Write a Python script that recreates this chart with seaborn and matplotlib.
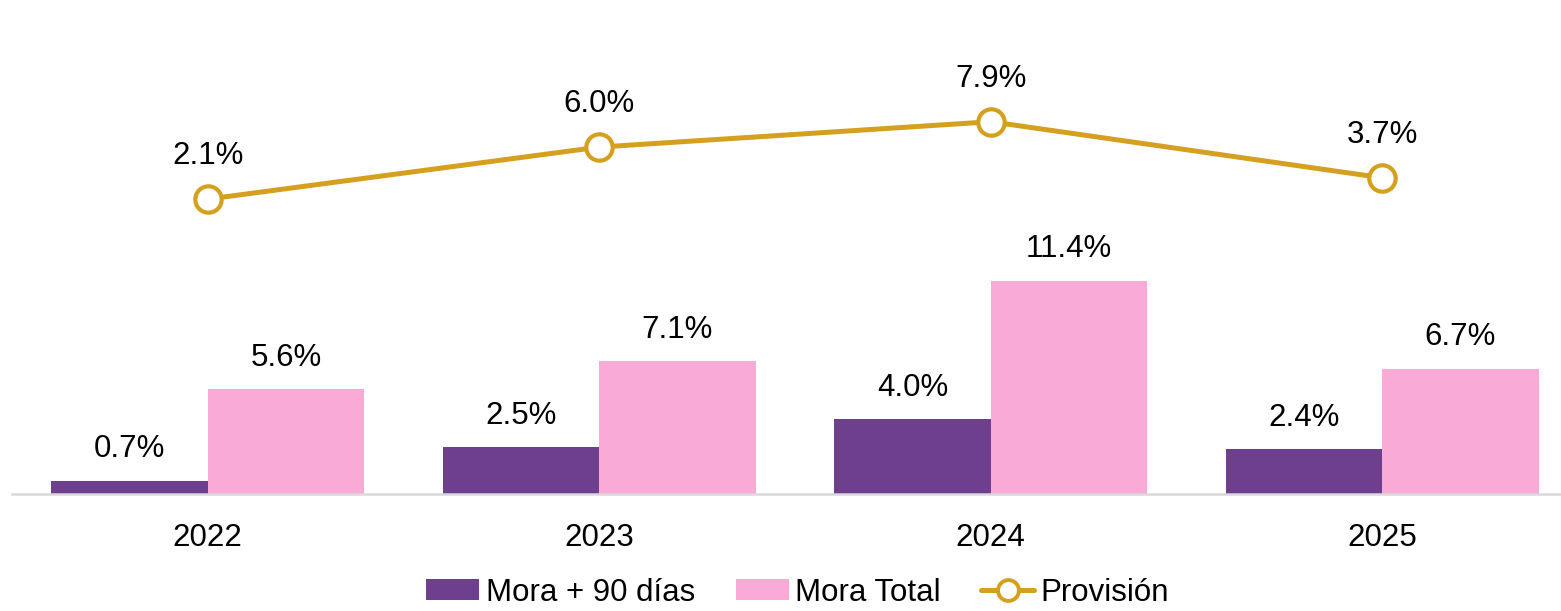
import pandas as pd
import matplotlib
matplotlib.use("Agg")
import matplotlib.pyplot as plt
import seaborn as sns
from matplotlib.patches import Patch
from matplotlib.lines import Line2D

# Données
years = ["2022", "2023", "2024", "2025"]
mora_90 = [0.7, 2.5, 4.0, 2.4]
mora_total = [5.6, 7.1, 11.4, 6.7]
provision = [2.1, 6.0, 7.9, 3.7]
series_names = ["Mora + 90 días", "Mora Total", "Provisión"]

purple = "#6E3F8E"
pink = "#FAAAD6"
gold = "#D4A01E"

sns.set_style("white")
plt.rcParams['font.family'] = ['Liberation Sans', 'DejaVu Sans']

df = pd.DataFrame({
    "year": years * 2,
    "value": mora_90 + mora_total,
    "serie": [series_names[0]] * len(years) + [series_names[1]] * len(years),
})

fig = plt.figure(figsize=(15.61, 6.11), dpi=100)
ax = fig.add_axes([12 / 1561, 117 / 611, 1566 / 1561, 467 / 611])

sns.barplot(data=df, x="year", y="value", hue="serie", palette=[purple, pink],
            order=years, hue_order=series_names[:2], ax=ax, legend=False,
            saturation=1, edgecolor="none", linewidth=0)

for cont in ax.containers:
    ax.bar_label(cont, labels=[f"{v:.1f}%" for v in cont.datavalues],
                 padding=12, fontsize=22.5, color="black")

ax.set_ylim(0, 25)
ax.set_xlabel("")
ax.set_ylabel("")
ax.set_yticks([])
ax.tick_params(axis="x", length=0, pad=21, labelsize=22.5, colors="black")
for s in ["top", "left", "right"]:
    ax.spines[s].set_visible(False)
ax.spines["bottom"].set_color("#D9D9D9")
ax.spines["bottom"].set_linewidth(1.8)

# Ligne de provision sur l'axe secondaire
ax2 = ax.twinx()
sns.pointplot(x=years, y=provision, ax=ax2, color=gold, errorbar=None,
              marker="o", markersize=19, markerfacecolor="white",
              markeredgewidth=3, linewidth=3.6)
ax2.set_ylim(-20, 15)
ax2.set_yticks([])
ax2.set_ylabel("")
for s in ["top", "left", "right", "bottom"]:
    ax2.spines[s].set_visible(False)

for i, v in enumerate(provision):
    ax2.annotate(f"{v:.1f}%", (i, v), xytext=(0, 20), textcoords="offset points",
                 ha="center", va="bottom", fontsize=22.5, color="black")

handles = [
    Patch(facecolor=purple, edgecolor="none"),
    Patch(facecolor=pink, edgecolor="none"),
    Line2D([0], [0], color=gold, linewidth=3.6, marker="o", markersize=15,
           markerfacecolor="white", markeredgewidth=2.8),
]
fig.legend(handles, series_names, loc="lower center", bbox_to_anchor=(0.511, -0.02),
           ncol=3, frameon=False, fontsize=22.5, handlelength=1.7, handleheight=0.65,
           handletextpad=0.2, columnspacing=1.3, borderpad=0, labelcolor="black")

fig.savefig("out.png", dpi=100)
